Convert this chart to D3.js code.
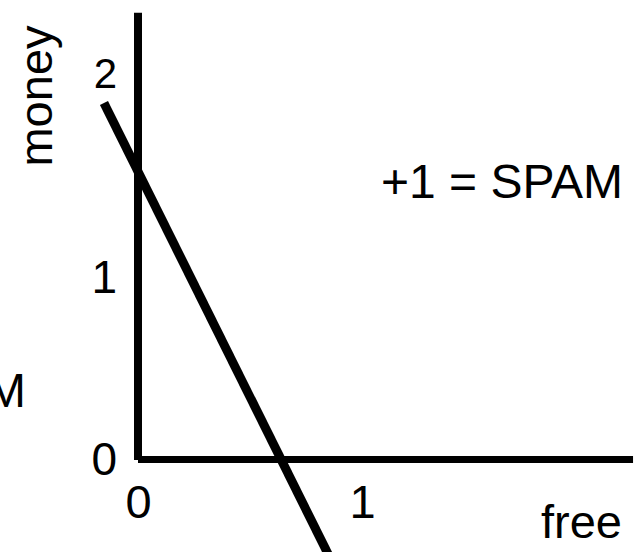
<!DOCTYPE html>
<html>
<head>
<meta charset="utf-8">
<script src="https://cdn.jsdelivr.net/npm/d3@7"></script>
<style>
  html, body { margin: 0; padding: 0; background: #fff; overflow: hidden; }
  svg { display: block; }
  text { font-family: "Liberation Sans", Arial, Helvetica, sans-serif; fill: #000; }
</style>
</head>
<body>
<svg id="chart" width="639" height="552"></svg>
<script>
// ---- data ----
const xTicks = [0, 1];
const yTicks = [0, 1, 2];
const xAxisExtent = [0, 2.21];
const yAxisExtent = [0, 2.30];
const boundaryX = [-0.152, 0.853];
const boundaryY = [1.858, -0.532];
const xLabel = "free";
const yLabel = "money";
const posLabel = "+1 = SPAM";
const negLabel = "-1 = HAM";

// ---- scales ----
const x = d3.scaleLinear().domain([0, 1]).range([138, 362]);
const y = d3.scaleLinear().domain([0, 1, 2]).range([459.5, 278, 74]);

const svg = d3.select("#chart");

// axis lines
svg.append("line")
  .attr("x1", x(0)).attr("x2", x(0))
  .attr("y1", y(yAxisExtent[0]) + 0.5).attr("y2", y(yAxisExtent[1]))
  .attr("stroke", "#000").attr("stroke-width", 8);
svg.append("line")
  .attr("x1", x(xAxisExtent[0])).attr("x2", x(xAxisExtent[1]))
  .attr("y1", y(0)).attr("y2", y(0))
  .attr("stroke", "#000").attr("stroke-width", 7);

// tick labels via d3 axes
const yAxis = svg.append("g")
  .attr("transform", `translate(${x(0)},0)`)
  .call(d3.axisLeft(y).tickValues(yTicks).tickSize(0).tickPadding(21).tickFormat(d3.format("d")));
yAxis.select(".domain").remove();
yAxis.selectAll("text")
  .style("font-family", '"Liberation Sans", Arial, sans-serif')
  .style("font-size", d => d === 2 ? "42px" : "46px")
  .attr("fill", "#000");

const xAxis = svg.append("g")
  .attr("transform", `translate(0,${y(0)})`)
  .call(d3.axisBottom(x).tickValues(xTicks).tickSize(0).tickPadding(25).tickFormat(d3.format("d")));
xAxis.select(".domain").remove();
xAxis.selectAll("text")
  .style("font-family", '"Liberation Sans", Arial, sans-serif')
  .style("font-size", "47px")
  .attr("fill", "#000");

// decision boundary
const pts = boundaryX.map((v, i) => [v, boundaryY[i]]);
svg.append("path")
  .datum(pts)
  .attr("d", d3.line().x(d => x(d[0])).y(d => y(d[1])))
  .attr("fill", "none")
  .attr("stroke", "#000")
  .attr("stroke-width", 9);

// labels
svg.append("text")
  .attr("transform", "translate(52,96) rotate(-90)")
  .attr("text-anchor", "middle")
  .style("font-size", "47px")
  .text(yLabel);

svg.append("text")
  .attr("x", 541).attr("y", 538)
  .style("font-size", "47px")
  .text(xLabel);

svg.append("text")
  .attr("x", 381).attr("y", 198)
  .style("font-size", "48px")
  .text(posLabel);

svg.append("text")
  .attr("x", 26).attr("y", 407)
  .attr("text-anchor", "end")
  .style("font-size", "48px")
  .text(negLabel);
</script>
</body>
</html>
